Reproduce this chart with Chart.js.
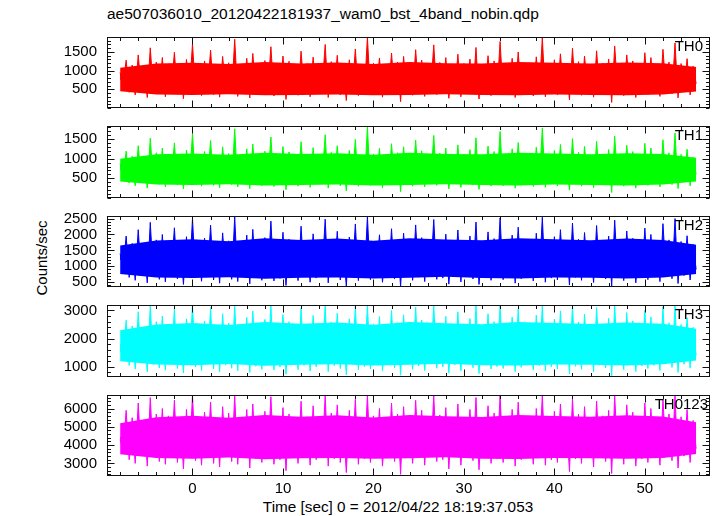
<!DOCTYPE html>
<html>
<head>
<meta charset="utf-8">
<script src="https://cdn.jsdelivr.net/npm/chart.js@4.4.1/dist/chart.umd.min.js"></script>
<style>
body { margin: 0; background: #fff; width: 717px; height: 516px; overflow: hidden; position: relative;
       font-family: "Liberation Sans", Arial, sans-serif; color: #000; }
.panel { position: absolute; left: 0; width: 717px; }
#title { position: absolute; left: 107px; top: 5px; font-size: 15.5px; white-space: nowrap; }
#ylab { position: absolute; left: 41px; top: 258px; transform: translate(-50%, -50%) rotate(-90deg); font-size: 15px; white-space: nowrap; }
#xlab { position: absolute; left: 398px; top: 498px; transform: translateX(-50%); font-size: 15.3px; white-space: nowrap; }
</style>
</head>
<body>
<div id="title">ae507036010_20120422181937_wam0_bst_4band_nobin.qdp</div>
<div id="ylab">Counts/sec</div>
<div id="xlab">Time [sec] 0 = 2012/04/22 18:19:37.053</div>
<script>
// ---- data: counts/sec, one value every 1/3 s starting at t = -8 s ----
const t0 = -8.0, dt = 1 / 3;

const th0 = [
  950, 610, 1280, 420, 1150, 350, 1420, 520, 1090, 280, 1610, 460, 1230, 390, 1350, 300,
  1180, 540, 1490, 370, 1060, 250, 1300, 480, 1720, 410, 1140, 330, 1260, 500, 1550, 360,
  1100, 290, 1380, 450, 1210, 380, 1840, 310, 1170, 530, 1330, 270, 1460, 420, 1080, 350,
  1270, 470, 1640, 320, 1120, 400, 1390, 230, 1250, 510, 1050, 340, 1520, 440, 1190, 300,
  1360, 390, 1130, 560, 1700, 280, 1240, 430, 1410, 350, 1080, 200, 1290, 480, 1580, 330,
  1160, 410, 1900, 360, 1200, 520, 1340, 290, 1110, 440, 1470, 380, 1230, 170, 1380, 460,
  1070, 340, 1560, 420, 1280, 310, 1150, 490, 1690, 360, 1220, 400, 1350, 260, 1130, 450,
  1440, 300, 1190, 530, 1310, 380, 1620, 240, 1090, 470, 1400, 330, 1260, 420, 1780, 350,
  1140, 460, 1330, 280, 1500, 390, 1210, 510, 1060, 320, 1370, 440, 1880, 300, 1170, 400,
  1290, 350, 1450, 480, 1120, 220, 1600, 410, 1240, 340, 1390, 500, 1100, 290, 1530, 430,
  1200, 370, 1310, 150, 1660, 450, 1180, 330, 1420, 520, 1260, 280, 1080, 410, 1480, 360,
  1350, 440, 1150, 310, 1570, 490, 1230, 380, 1740, 270, 1190, 460, 1320, 350, 1120, 650
];
const th1 = [
  880, 560, 1190, 380, 1060, 310, 1330, 470, 1010, 250, 1520, 420, 1150, 350, 1270, 280,
  1100, 490, 1400, 330, 990, 230, 1220, 440, 1640, 370, 1060, 300, 1180, 460, 1460, 320,
  1030, 260, 1300, 410, 1130, 340, 1760, 280, 1090, 480, 1250, 240, 1370, 380, 1000, 310,
  1190, 430, 1550, 290, 1040, 360, 1310, 210, 1170, 470, 980, 300, 1430, 400, 1110, 270,
  1280, 350, 1050, 510, 1610, 250, 1160, 390, 1330, 310, 1000, 180, 1210, 440, 1490, 300,
  1080, 370, 1800, 320, 1120, 470, 1260, 260, 1030, 400, 1380, 340, 1150, 160, 1300, 420,
  990, 300, 1470, 380, 1200, 280, 1070, 450, 1590, 320, 1140, 360, 1270, 230, 1050, 410,
  1350, 270, 1110, 480, 1230, 340, 1530, 220, 1010, 430, 1320, 300, 1180, 380, 1690, 310,
  1060, 420, 1250, 250, 1410, 350, 1130, 460, 980, 290, 1290, 400, 1780, 270, 1090, 360,
  1210, 310, 1360, 440, 1040, 200, 1510, 370, 1160, 300, 1310, 450, 1020, 260, 1440, 390,
  1120, 330, 1230, 140, 1570, 410, 1100, 300, 1340, 470, 1180, 250, 1000, 370, 1390, 320,
  1270, 400, 1070, 280, 1480, 440, 1150, 340, 1650, 240, 1110, 420, 1240, 310, 1040, 600
];
const th2 = [
  1400, 900, 1950, 650, 1720, 560, 2150, 780, 1610, 480, 2380, 690, 1830, 590, 2000, 510,
  1760, 820, 2210, 600, 1590, 430, 1930, 720, 2500, 640, 1700, 530, 1880, 760, 2290, 570,
  1650, 470, 2050, 700, 1800, 590, 2550, 520, 1740, 810, 1980, 450, 2160, 660, 1620, 560,
  1900, 740, 2420, 540, 1680, 620, 2070, 400, 1850, 780, 1560, 550, 2260, 690, 1770, 500,
  2020, 630, 1690, 840, 2480, 480, 1840, 680, 2100, 570, 1610, 380, 1920, 740, 2330, 550,
  1730, 650, 2560, 580, 1790, 800, 1990, 500, 1660, 690, 2180, 600, 1830, 360, 2040, 720,
  1600, 560, 2300, 660, 1900, 520, 1720, 770, 2470, 590, 1810, 630, 2010, 440, 1680, 700,
  2140, 510, 1760, 810, 1950, 600, 2390, 430, 1640, 730, 2080, 560, 1870, 650, 2520, 580,
  1710, 720, 1980, 470, 2230, 610, 1800, 790, 1590, 540, 2040, 680, 2540, 500, 1740, 630,
  1930, 570, 2150, 750, 1670, 410, 2360, 650, 1850, 560, 2060, 770, 1620, 490, 2280, 670,
  1790, 600, 1950, 370, 2450, 700, 1760, 550, 2110, 800, 1880, 480, 1600, 640, 2200, 580,
  2000, 690, 1710, 520, 2340, 760, 1830, 610, 2500, 460, 1780, 710, 1960, 570, 1690, 900
];
const th3 = [
  1600, 1300, 2650, 1050, 2450, 920, 2950, 1150, 2300, 820, 3190, 1080, 2600, 960, 2800, 880,
  2500, 1180, 3050, 940, 2350, 780, 2700, 1100, 3190, 1000, 2420, 870, 2620, 1140, 3100, 930,
  2380, 820, 2880, 1060, 2550, 950, 3190, 860, 2480, 1200, 2750, 800, 2980, 1020, 2320, 910,
  2680, 1120, 3190, 890, 2400, 990, 2850, 740, 2600, 1160, 2280, 900, 3080, 1050, 2500, 850,
  2820, 1000, 2430, 1220, 3190, 830, 2580, 1040, 2900, 940, 2330, 720, 2700, 1110, 3150, 900,
  2450, 1010, 3190, 930, 2520, 1180, 2780, 850, 2390, 1060, 3000, 960, 2560, 700, 2840, 1090,
  2310, 910, 3120, 1030, 2660, 870, 2470, 1150, 3190, 950, 2540, 1000, 2790, 780, 2410, 1070,
  2950, 860, 2490, 1190, 2710, 970, 3190, 760, 2360, 1100, 2880, 920, 2600, 1010, 3190, 940,
  2420, 1080, 2760, 830, 3050, 980, 2530, 1170, 2300, 890, 2830, 1040, 3190, 850, 2460, 1000,
  2690, 930, 2980, 1130, 2390, 750, 3190, 1020, 2590, 910, 2870, 1150, 2340, 820, 3100, 1060,
  2510, 960, 2720, 680, 3190, 1070, 2480, 900, 2920, 1190, 2620, 830, 2350, 1030, 3010, 940,
  2770, 1050, 2440, 870, 3130, 1120, 2560, 980, 3190, 800, 2500, 1090, 2740, 950, 2400, 1400
];
const th0123 = [
  4300, 3700, 5900, 3200, 5500, 3000, 6300, 3450, 5300, 2850, 6600, 3350, 5700, 3100, 6000, 2950,
  5600, 3400, 6450, 3050, 5350, 2700, 5950, 3300, 6740, 3150, 5450, 2900, 5800, 3450, 6350, 3000,
  5300, 2800, 6100, 3350, 5750, 3100, 6700, 2950, 5500, 3550, 5950, 2750, 6250, 3250, 5250, 3050,
  5850, 3400, 6650, 2950, 5400, 3200, 6050, 2600, 5700, 3500, 5200, 3000, 6400, 3300, 5550, 2900,
  6150, 3200, 5450, 3600, 6700, 2850, 5750, 3250, 6200, 3050, 5300, 2500, 5900, 3400, 6500, 2950,
  5500, 3250, 6740, 3050, 5600, 3500, 6000, 2850, 5350, 3300, 6300, 3100, 5700, 2400, 6100, 3400,
  5250, 3000, 6450, 3300, 5900, 2900, 5450, 3450, 6700, 3100, 5650, 3200, 6050, 2700, 5400, 3350,
  6250, 2900, 5500, 3550, 5950, 3150, 6600, 2650, 5300, 3400, 6150, 3000, 5750, 3250, 6740, 3050,
  5450, 3350, 5950, 2850, 6350, 3200, 5600, 3500, 5200, 2950, 6000, 3300, 6740, 2900, 5500, 3200,
  5850, 3050, 6250, 3450, 5400, 2550, 6550, 3250, 5700, 3000, 6100, 3500, 5300, 2800, 6400, 3350,
  5600, 3100, 5900, 2450, 6700, 3400, 5500, 2950, 6200, 3550, 5800, 2850, 5250, 3250, 6300, 3050,
  6000, 3300, 5450, 2900, 6500, 3450, 5700, 3150, 6740, 2750, 5550, 3400, 5950, 3050, 5350, 3800
];

// solid core of each band (where the overlapping trace is opaque), every 4 s
const coreT = [-8, -4, 0, 4, 8, 12, 16, 20, 24, 28, 32, 36, 40, 44, 48, 52, 55.67];
const th0Hi = [1080, 1190, 1210, 1180, 1230, 1190, 1220, 1180, 1230, 1200, 1190, 1230, 1210, 1190, 1220, 1200, 1100];
const th0Lo = [450, 360, 350, 370, 340, 350, 360, 340, 350, 370, 350, 340, 360, 350, 340, 360, 440];
const th1Hi = [1000, 1110, 1130, 1100, 1150, 1120, 1140, 1100, 1150, 1120, 1110, 1150, 1130, 1110, 1140, 1120, 1020];
const th1Lo = [420, 340, 330, 350, 320, 330, 340, 320, 330, 350, 330, 320, 340, 330, 320, 340, 420];
const th2Hi = [1650, 1810, 1850, 1790, 1880, 1830, 1870, 1800, 1880, 1840, 1820, 1880, 1850, 1820, 1870, 1830, 1680];
const th2Lo = [760, 650, 630, 660, 610, 640, 650, 620, 640, 670, 630, 620, 650, 640, 620, 650, 760];
const th3Hi = [2300, 2500, 2550, 2480, 2590, 2530, 2570, 2490, 2590, 2540, 2510, 2590, 2550, 2520, 2570, 2530, 2350];
const th3Lo = [1200, 1080, 1060, 1100, 1040, 1070, 1090, 1050, 1070, 1110, 1060, 1050, 1080, 1070, 1050, 1090, 1220];
const th0123Hi = [5200, 5520, 5600, 5500, 5650, 5550, 5630, 5510, 5650, 5580, 5540, 5650, 5590, 5550, 5630, 5570, 5250];
const th0123Lo = [3500, 3300, 3260, 3320, 3220, 3280, 3300, 3250, 3280, 3340, 3260, 3240, 3290, 3280, 3250, 3300, 3520];
// level that the raw trace is shaded towards (mean rate of each band)
const meanRate = [750, 700, 1200, 1800, 4450];

const bandNames = ['TH0', 'TH1', 'TH2', 'TH3', 'TH0123'];
const bandColors = ['#ff0000', '#00ff00', '#0000ff', '#00ffff', '#ff00ff'];
const yRanges = [[0, 1900], [0, 1830], [350, 2580], [640, 3190], [2310, 6740]];
const yMajor = [[500, 1000, 1500], [500, 1000, 1500], [500, 1000, 1500, 2000, 2500], [1000, 2000, 3000], [3000, 4000, 5000, 6000]];
const yMinorStep = [100, 100, 100, 200, 200];
const xRange = [-9.45, 57.2];
const xMajor = [0, 10, 20, 30, 40, 50];
const xMinorStep = 2;

// ---- layout ----
const panelTop = [28, 117, 207, 296, 386];
const panelBottom = 476;
const PAD = 10;
const xAxisH = 26;
const labelInset = [7, 7, 7, 7, 2];

Chart.defaults.font.family = '"Liberation Sans", Arial, sans-serif';
Chart.defaults.font.size = 15;
Chart.defaults.color = '#000';

// qdp style box with inward ticks on all four sides, plus the band name
const qdpFrame = {
    id: 'qdpFrame',
    afterDatasetsDraw(chart, args, opts) {
        const { ctx, chartArea: a, scales } = chart;
        const xs = scales.x, ys = scales.y;
        const major = opts.major || [];
        const step = opts.minor || 100;
        const L = Math.round(a.left) + 0.5, R = Math.round(a.right) - 0.5;
        const T = Math.round(a.top) + 0.5, B = Math.round(a.bottom) - 0.5;
        ctx.save();
        ctx.strokeStyle = '#111';
        ctx.lineWidth = 1;
        ctx.strokeRect(L, T, R - L, B - T);
        ctx.beginPath();
        // x ticks (top and bottom)
        for (let v = Math.ceil(xs.min / xMinorStep) * xMinorStep; v <= xs.max; v += xMinorStep) {
            const px = Math.round(xs.getPixelForValue(v)) + 0.5;
            const len = xMajor.includes(v) ? 7 : 3.5;
            ctx.moveTo(px, B); ctx.lineTo(px, B - len);
            ctx.moveTo(px, T); ctx.lineTo(px, T + len);
        }
        // y ticks (left and right)
        for (let v = Math.ceil(ys.min / step) * step; v <= ys.max; v += step) {
            const py = Math.round(ys.getPixelForValue(v)) + 0.5;
            const len = major.includes(v) ? 7 : 3.5;
            ctx.moveTo(L, py); ctx.lineTo(L + len, py);
            ctx.moveTo(R, py); ctx.lineTo(R - len, py);
        }
        ctx.stroke();
        ctx.fillStyle = '#000';
        ctx.font = '15px "Liberation Sans", Arial, sans-serif';
        ctx.textAlign = 'right';
        ctx.textBaseline = 'alphabetic';
        ctx.fillText(opts.label, a.right - opts.inset, a.top + 14);
        ctx.restore();
    }
};

function toXY(ts, vals) {
    return vals.map((v, i) => ({ x: ts[i], y: v }));
}

const series = [th0, th1, th2, th3, th0123];
const coreHi = [th0Hi, th1Hi, th2Hi, th3Hi, th0123Hi];
const coreLo = [th0Lo, th1Lo, th2Lo, th3Lo, th0123Lo];
const times = th0.map((_, i) => t0 + i * dt);

for (let k = 0; k < 5; k++) {
    const last = k === 4;
    const bottom = last ? panelBottom : panelTop[k + 1];
    const h = bottom - panelTop[k] + PAD + (last ? xAxisH : PAD);

    const wrap = document.createElement('div');
    wrap.className = 'panel';
    wrap.style.top = (panelTop[k] - PAD) + 'px';
    wrap.style.height = h + 'px';
    const cv = document.createElement('canvas');
    wrap.appendChild(cv);
    document.body.appendChild(wrap);

    const col = bandColors[k];
    new Chart(cv, {
        type: 'line',
        data: {
            datasets: [
                {
                    label: bandNames[k],
                    data: toXY(times, series[k]),
                    borderColor: col,
                    backgroundColor: col,
                    borderWidth: 1,
                    pointRadius: 0,
                    tension: 0,
                    fill: { value: meanRate[k] }
                },
                {
                    label: bandNames[k] + ' core hi',
                    data: toXY(coreT, coreHi[k]),
                    borderWidth: 0,
                    borderColor: col,
                    backgroundColor: col,
                    pointRadius: 0,
                    fill: '+1'
                },
                {
                    label: bandNames[k] + ' core lo',
                    data: toXY(coreT, coreLo[k]),
                    borderWidth: 0,
                    borderColor: col,
                    pointRadius: 0,
                    fill: false
                }
            ]
        },
        options: {
            responsive: true,
            maintainAspectRatio: false,
            animation: false,
            layout: { padding: { top: PAD, bottom: last ? 0 : PAD, left: 0, right: 7 } },
            plugins: {
                legend: { display: false },
                tooltip: { enabled: false },
                qdpFrame: { label: bandNames[k], major: yMajor[k], minor: yMinorStep[k], inset: labelInset[k] }
            },
            scales: {
                x: {
                    type: 'linear',
                    display: last,
                    min: xRange[0], max: xRange[1],
                    grid: { display: false, drawTicks: false },
                    border: { display: false },
                    afterBuildTicks: s => { s.ticks = xMajor.map(v => ({ value: v })); },
                    afterFit: s => { if (last) s.height = xAxisH; },
                    ticks: { padding: 4, maxRotation: 0, color: '#000', callback: v => String(v) }
                },
                y: {
                    min: yRanges[k][0], max: yRanges[k][1],
                    grid: { display: false, drawTicks: false },
                    border: { display: false },
                    afterBuildTicks: s => { s.ticks = yMajor[k].map(v => ({ value: v })); },
                    afterFit: s => { s.width = 107; },
                    ticks: { padding: 10, color: '#000', callback: v => String(v) }
                }
            }
        },
        plugins: [qdpFrame]
    });
}
</script>
</body>
</html>
